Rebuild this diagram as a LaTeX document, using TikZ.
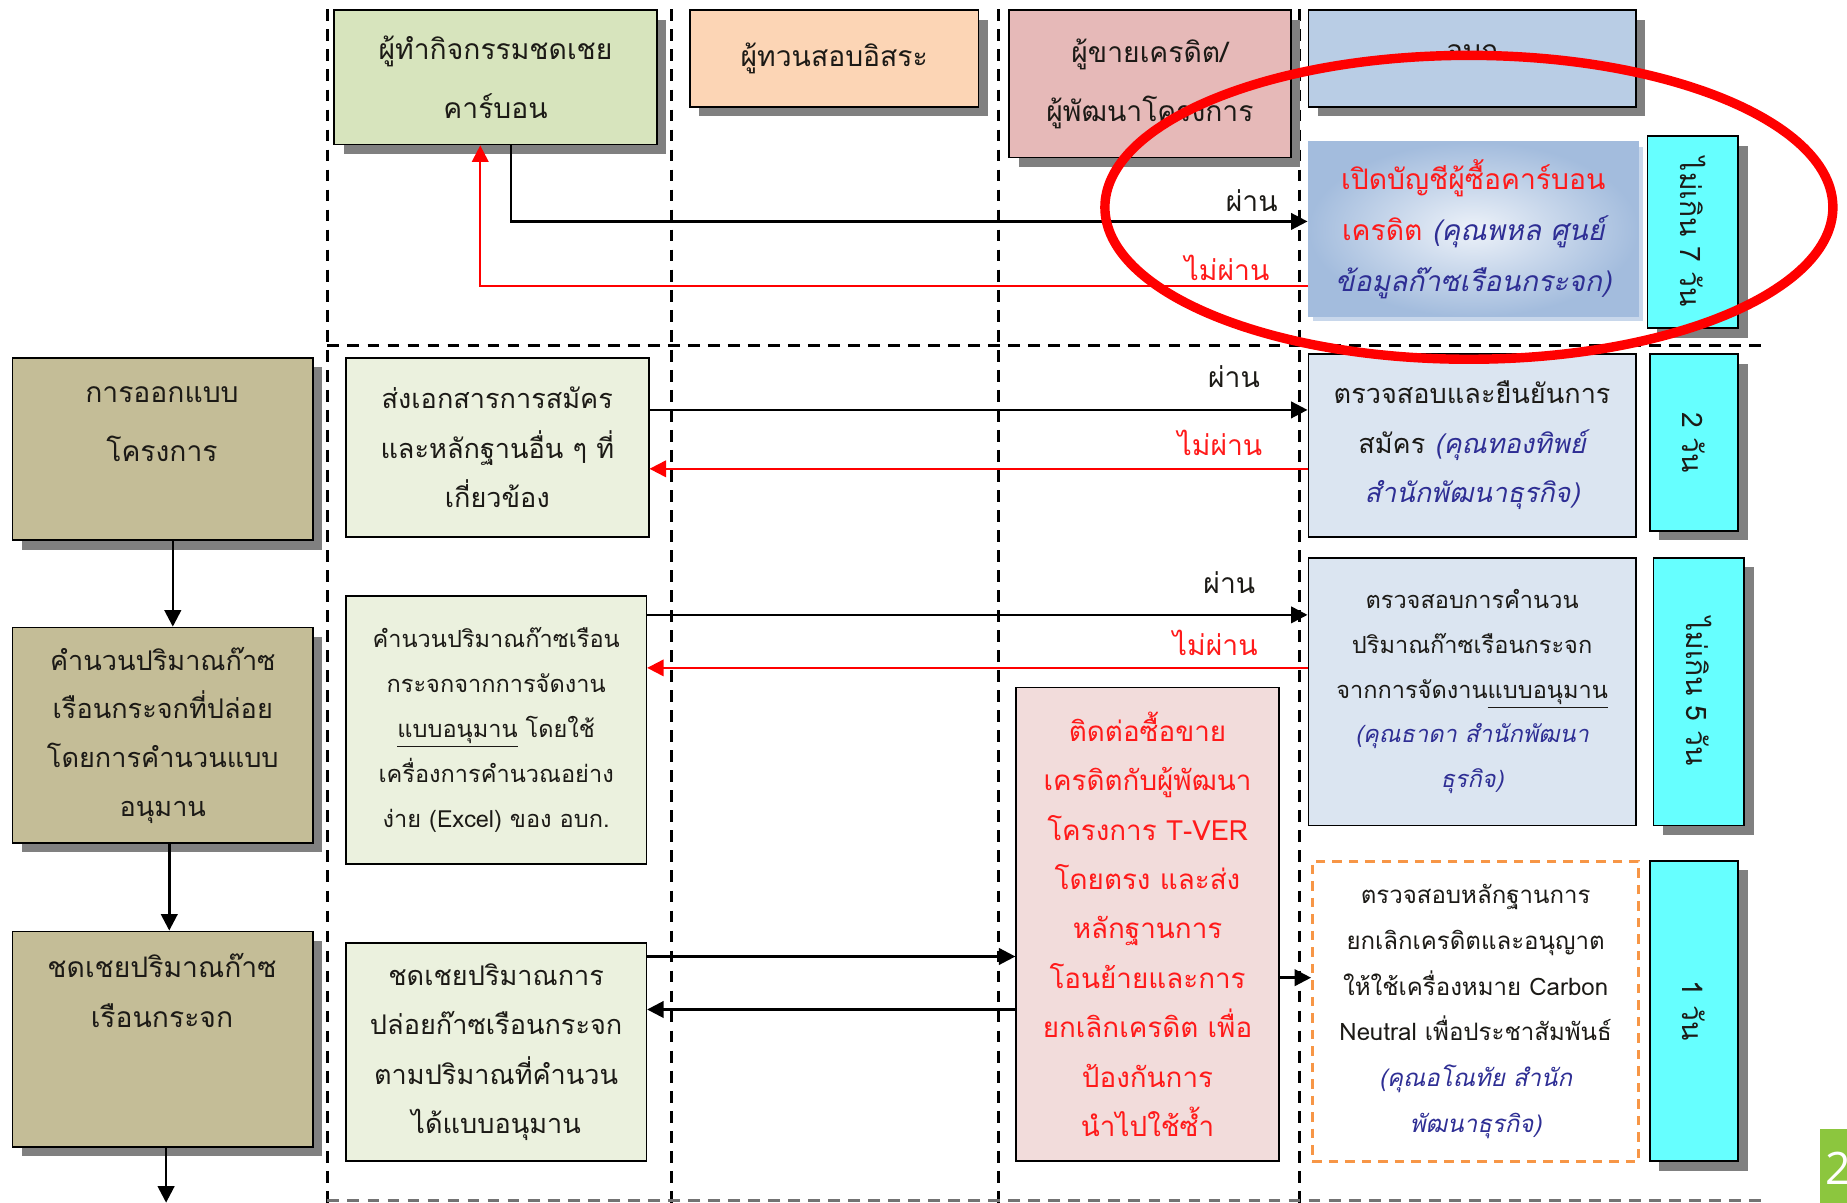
\documentclass[tikz,border=0pt]{standalone}
\usepackage{fontspec}
\newfontfamily\thai[Script=Thai,ItalicFont={Loma Oblique}]{Loma}
\newfontfamily\badgefont{Open Sans}
\usetikzlibrary{arrows.meta,shadows,calc}
\definecolor{hgreen}{HTML}{D7E4BD}
\definecolor{horange}{HTML}{FCD5B5}
\definecolor{hpink}{HTML}{E6B9B8}
\definecolor{hblue}{HTML}{B9CDE5}
\definecolor{tanbox}{HTML}{C4BD97}
\definecolor{lgreen}{HTML}{EBF1DE}
\definecolor{lblue}{HTML}{DBE5F1}
\definecolor{lpink}{HTML}{F2DCDB}
\definecolor{cyanbox}{HTML}{66FFFF}
\definecolor{orangedash}{HTML}{F79646}
\definecolor{txtred}{HTML}{FF1A1A}
\definecolor{txtblue}{HTML}{2E2E94}
\definecolor{txtdark}{HTML}{1C1A16}
\definecolor{badge}{HTML}{8CC63E}
\definecolor{binner}{HTML}{EDF2F9}
\definecolor{bouter}{HTML}{A3BCDD}
\newcommand\blueit[1]{{\color{txtblue}\itshape #1}}
\newcommand\redtx[1]{{\color{txtred}#1}}
\begin{document}
\begin{tikzpicture}[x=0.5pt,y=-0.5pt,
  box/.style={draw=black, line width=0.7pt, inner sep=0pt, anchor=north west, align=center, text=txtdark},
  shad/.style={drop shadow={opacity=1, fill=black!50, shadow xshift=4pt, shadow yshift=-4pt}},
  big/.style={font=\thai\fontsize{11.5}{21}\selectfont},
  small/.style={font=\thai\fontsize{10}{19}\selectfont},
  head/.style={font=\thai\fontsize{12}{25}\selectfont},
  vert/.style={font=\thai\fontsize{12}{14}\selectfont, rotate=-90, text=txtdark},
  lane/.style={line width=1.3pt, dash pattern=on 5pt off 3.5pt},
  blk/.style={line width=1.1pt, -{Triangle[length=7pt,width=7pt]}},
  rd/.style={line width=0.9pt, red, -{Triangle[length=7pt,width=7pt]}},
  lbl/.style={font=\thai\fontsize{12}{14}\selectfont, anchor=east, inner sep=0pt, text=txtdark},
  rlbl/.style={lbl, text=txtred},
]
\useasboundingbox (0,0) rectangle (1568,1021);

% swimlane lines
\draw[lane] (278,8) -- (278,1021);
\draw[lane] (570,8) -- (570,1021);
\draw[lane] (848,8) -- (848,1021);
\draw[lane] (1103,8) -- (1103,1021);
\draw[lane] (278,293) -- (1497,293);
\draw[lane, black!55] (278,1019) -- (1497,1019);

% helper coordinates
\coordinate (yA) at (0,188);
\coordinate (yB) at (0,243);
\coordinate (y1) at (0,348);
\coordinate (y2) at (0,398);
\coordinate (y3) at (0,522);
\coordinate (y4) at (0,567);
\coordinate (y5) at (0,812);
\coordinate (y6) at (0,857);
\coordinate (y7) at (0,830);
\coordinate (bottomend) at (141,1021);

% headers
\node[box, shad, fill=hgreen, minimum width=137pt, minimum height=57pt, head] (H1) at (283,8) {ผู้ทำกิจกรรมชดเชย\\คาร์บอน};
\node[box, shad, fill=horange, minimum width=122.5pt, minimum height=41pt, head] (H2) at (585,8) {\raisebox{2.5pt}{ผู้ทวนสอบอิสระ}};
\node[box, shad, fill=hpink, minimum width=119.5pt, minimum height=62.5pt, head] (H3) at (856,8) {ผู้ขายเครดิต/\\ผู้พัฒนาโครงการ};
\node[box, shad, fill=hblue, minimum width=139pt, minimum height=41pt, head] (H4) at (1110,8) {\raisebox{5pt}{อบก}};

% top lane
\node[box, draw=bouter, shading=radial, inner color=binner, outer color=bouter,
  drop shadow={opacity=1, fill=bouter!60, shadow xshift=2pt, shadow yshift=-2pt},
  minimum width=140pt, minimum height=74pt, font=\thai\fontsize{12}{21.5}\selectfont] (B1) at (1110,120)
  {\redtx{เปิดบัญชีผู้ซื้อคาร์บอน}\\\redtx{เครดิต} \blueit{(คุณพหล ศูนย์}\\\blueit{ข้อมูลก๊าซเรือนกระจก)}};
\node[box, shad, fill=cyanbox, minimum width=38.5pt, minimum height=81.5pt] (C7) at (1398,115) {};
\node[vert] (C7t) at (C7.center) {ไม่เกิน 7 วัน};

% left column
\node[box, shad, fill=tanbox, minimum width=127.5pt, minimum height=77.5pt] (L1) at (10,303) {};
\node[align=center, text=txtdark, font=\thai\fontsize{12}{25}\selectfont] (L1t) at (137.5,360) {การออกแบบ\\โครงการ};
\node[box, shad, fill=tanbox, minimum width=127.5pt, minimum height=91.5pt, font=\thai\fontsize{11.5}{20.7}\selectfont] (L2) at (10,532) {คำนวนปริมาณก๊าซ\\เรือนกระจกที่ปล่อย\\โดยการคำนวนแบบ\\อนุมาน};
\node[box, shad, fill=tanbox, minimum width=127.5pt, minimum height=91.5pt] (L3) at (10,790) {};
\node[align=center, text=txtdark, font=\thai\fontsize{12}{21}\selectfont] (L3t) at (137.5,841) {ชดเชยปริมาณก๊าซ\\เรือนกระจก};

% first lane column
\node[box, fill=lgreen, minimum width=128.5pt, minimum height=76pt, big] (G1) at (293,303) {ส่งเอกสารการสมัคร\\และหลักฐานอื่น ๆ ที่\\เกี่ยวข้อง};
\node[box, fill=lgreen, minimum width=127.5pt, minimum height=114pt, small] (G2) at (293,505) {คำนวนปริมาณก๊าซเรือน\\กระจกจากการจัดงาน\\\underline{แบบอนุมาน} โดยใช้\\เครื่องการคำนวณอย่าง\\ง่าย (Excel) ของ อบก.};
\node[box, fill=lgreen, minimum width=127.5pt, minimum height=92.5pt, big] (G3) at (293,800) {ชดเชยปริมาณการ\\ปล่อยก๊าซเรือนกระจก\\ตามปริมาณที่คำนวน\\ได้แบบอนุมาน};

% seller column
\node[box, fill=lpink, minimum width=111.5pt, minimum height=201pt, text=txtred, font=\thai\fontsize{11.8}{21}\selectfont] (P) at (862,583) {ติดต่อซื้อขาย\\เครดิตกับผู้พัฒนา\\โครงการ T-VER\\โดยตรง และส่ง\\หลักฐานการ\\โอนย้ายและการ\\ยกเลิกเครดิต เพื่อ\\ป้องกันการ\\นำไปใช้ซ้ำ};

% TGO column
\node[box, fill=lblue, minimum width=139pt, minimum height=77.5pt, big] (V2) at (1110,300) {ตรวจสอบและยืนยันการ\\สมัคร \blueit{(คุณทองทิพย์}\\\blueit{สำนักพัฒนาธุรกิจ)}};
\node[box, shad, fill=cyanbox, minimum width=37.5pt, minimum height=75pt] (C2) at (1400,300) {};
\node[vert] (C2t) at (C2.center) {2 วัน};
\node[box, fill=lblue, minimum width=139pt, minimum height=113.5pt, small] (V3) at (1110,473) {ตรวจสอบการคำนวน\\ปริมาณก๊าซเรือนกระจก\\จากการจัดงาน\underline{แบบอนุมาน}\\\blueit{(คุณธาดา สำนักพัฒนา}\\\blueit{ธุรกิจ)}};
\node[box, shad, fill=cyanbox, minimum width=38.5pt, minimum height=113.5pt] (C5) at (1403,473) {};
\node[vert] (C5t) at (C5.center) {ไม่เกิน 5 วัน};
\node[box, draw=orangedash, line width=1.2pt, dash pattern=on 4pt off 3pt, fill=white, minimum width=138.5pt, minimum height=127.5pt, font=\thai\fontsize{10.2}{19.5}\selectfont] (V4) at (1113,730) {ตรวจสอบหลักฐานการ\\ยกเลิกเครดิตและอนุญาต\\ให้ใช้เครื่องหมาย Carbon\\Neutral เพื่อประชาสัมพันธ์\\\blueit{(คุณอโณทัย สำนัก}\\\blueit{พัฒนาธุรกิจ)}};
\node[box, shad, fill=cyanbox, minimum width=37.5pt, minimum height=127.5pt] (C1) at (1400,730) {};
\node[vert] (C1t) at (C1.center) {1 วัน};

% connectors top lane
\draw[blk] ([xshift=6.5pt]H1.south) |- (B1.west |- yA);
\draw[rd] (B1.west |- yB) -| ([xshift=-6.5pt]H1.south);
\node[lbl] (la1) at (1085,170) {ผ่าน};
\node[rlbl] (la2) at (1078,227) {ไม่ผ่าน};

% row 2
\draw[blk] (G1.east |- y1) -- (V2.west |- y1);
\draw[rd] (V2.west |- y2) -- (G1.east |- y2);
\node[lbl] (lb1) at (1070,320) {ผ่าน};
\node[rlbl] (lb2) at (1072,376) {ไม่ผ่าน};

% row 3
\draw[blk] (G2.east |- y3) -- (V3.west |- y3);
\draw[rd] (V3.west |- y4) -- (G2.east |- y4);
\node[lbl] (lc1) at (1066,495) {ผ่าน};
\node[rlbl] (lc2) at (1068,546) {ไม่ผ่าน};

% row 4
\draw[blk] (G3.east |- y5) -- (P.west |- y5);
\draw[blk] (P.west |- y6) -- (G3.east |- y6);
\draw[blk] (P.east |- y7) -- (V4.west |- y7);

% left column arrows
\draw[blk] ([xshift=4.25pt]L1.south) -- ([xshift=4.25pt]L2.north);
\draw[blk] ([xshift=2.75pt]L2.south) -- ([xshift=2.75pt]L3.north);
\draw[blk] (L3.south -| bottomend) -- (bottomend);

% page badge
\node[fill=badge, anchor=north west, minimum width=15pt, minimum height=32pt, inner sep=0pt] (badge) at (1545,958) {};
\node[text=white, anchor=west, inner sep=0pt, font=\badgefont\fontsize{19}{20}\selectfont] (badget) at (1549,992) {2};

% highlight ellipse
\draw[red, line width=4pt] (1247,176) ellipse [x radius=309, y radius=129];
\end{tikzpicture}
\end{document}
